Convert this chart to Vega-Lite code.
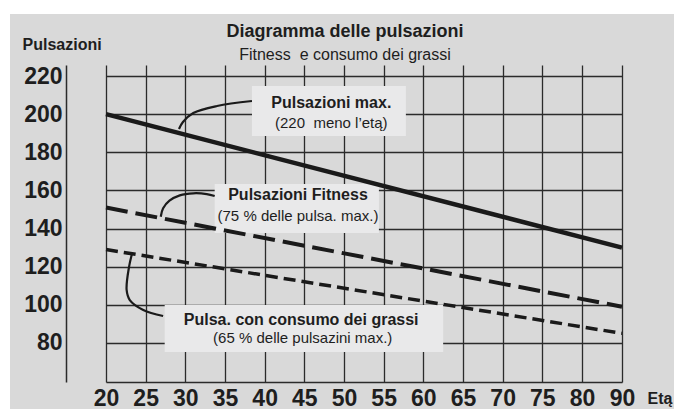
{
  "$schema": "https://vega.github.io/schema/vega-lite/v6.json",
  "width": 558,
  "height": 317,
  "autosize": "none",
  "padding": {"left": 66, "top": 65, "right": 50, "bottom": 27},
  "background": "#d9d9d9",
  "config": {
    "font": "Liberation Sans",
    "view": {"stroke": null},
    "axis": {
      "grid": true, "gridColor": "#2b2b2b", "gridWidth": 1.3, "gridOpacity": 1,
      "domainColor": "#2b2b2b", "domainWidth": 1.5,
      "ticks": false, "labelFont": "Liberation Sans", "labelFontWeight": "bold",
      "labelFontSize": 23, "labelColor": "#1e1e1e", "titleColor": "#1e1e1e",
      "titleFont": "Liberation Sans", "titleFontWeight": "bold", "titleFontSize": 16
    }
  },
  "title": {
    "text": "Diagramma delle pulsazioni",
    "subtitle": "Fitness\u00a0 e consumo dei grassi",
    "fontSize": 18, "fontWeight": "bold", "color": "#1e1e1e",
    "subtitleFontSize": 16, "subtitleColor": "#1e1e1e", "subtitlePadding": 6,
    "anchor": "middle", "frame": "group", "offset": -63,
    "font": "Liberation Sans", "subtitleFont": "Liberation Sans"
  },
  "datasets": {
    "lines": [
      {"serie": "max", "eta": 20, "puls": 200},
      {"serie": "max", "eta": 90, "puls": 130},
      {"serie": "fitness", "eta": 20, "puls": 151},
      {"serie": "fitness", "eta": 90, "puls": 99},
      {"serie": "grassi", "eta": 20, "puls": 129},
      {"serie": "grassi", "eta": 90, "puls": 85}
    ],
    "boxes": [
      {"box": "max", "x1": 38.4, "x2": 57.8, "y1": 214.8, "y2": 188.5},
      {"box": "fitness", "x1": 33.7, "x2": 54.4, "y1": 163.4, "y2": 137.7},
      {"box": "grassi", "x1": 27.4, "x2": 62.5, "y1": 99.9, "y2": 75.3}
    ],
    "strips": [
      {"x1": 6.64, "x2": 103, "y1": 252.5, "y2": 259.85},
      {"x1": 6.64, "x2": 7.9, "y1": 45.4, "y2": 259.85}
    ],
    "leaders": [
      {"id": "a", "i": 0, "eta": 29.2, "puls": 192.2},
      {"id": "a", "i": 1, "eta": 29.7, "puls": 195.9},
      {"id": "a", "i": 2, "eta": 31.0, "puls": 200.6},
      {"id": "a", "i": 3, "eta": 34.0, "puls": 204.3},
      {"id": "a", "i": 4, "eta": 38.4, "puls": 206.9},
      {"id": "b", "i": 0, "eta": 26.9, "puls": 146.2},
      {"id": "b", "i": 1, "eta": 27.2, "puls": 150.6},
      {"id": "b", "i": 2, "eta": 28.0, "puls": 154.6},
      {"id": "b", "i": 3, "eta": 29.3, "puls": 157.4},
      {"id": "b", "i": 4, "eta": 31.0, "puls": 158.5},
      {"id": "b", "i": 5, "eta": 32.7, "puls": 158.1},
      {"id": "b", "i": 6, "eta": 33.7, "puls": 157.1},
      {"id": "c", "i": 0, "eta": 23.3, "puls": 127.2},
      {"id": "c", "i": 1, "eta": 22.9, "puls": 119.8},
      {"id": "c", "i": 2, "eta": 22.6, "puls": 107.8},
      {"id": "c", "i": 3, "eta": 23.0, "puls": 102.5},
      {"id": "c", "i": 4, "eta": 24.7, "puls": 97.3},
      {"id": "c", "i": 5, "eta": 27.2, "puls": 94.1}
    ],
    "labels": [
      {"t": "Pulsazioni max.", "w": "bold", "eta": 48.4, "puls": 203.2},
      {"t": "(220\u00a0 meno l’etą)", "w": "normal", "eta": 48.4, "puls": 192.7},
      {"t": "Pulsazioni Fitness", "w": "bold", "eta": 44.2, "puls": 155},
      {"t": "(75 % delle pulsa. max.)", "w": "normal", "eta": 44.2, "puls": 144},
      {"t": "Pulsa. con consumo dei grassi", "w": "bold", "eta": 44.6, "puls": 89.4},
      {"t": "(65 % delle pulsazini max.)", "w": "normal", "eta": 44.8, "puls": 80}
    ]
  },
  "encoding": {
    "x": {
      "field": "eta", "type": "quantitative",
      "scale": {"domain": [20, 80, 90], "range": [40, 516, 556], "nice": false, "zero": false},
      "axis": {
        "values": [20, 25, 30, 35, 40, 45, 50, 55, 60, 65, 70, 75, 80, 90],
        "title": "Etą", "titleX": 581, "titleY": 21, "titleAlign": "left",
        "titleBaseline": "alphabetic", "titleAnchor": null, "labelPadding": 5,
        "labelOverlap": false, "labelFlush": false
      }
    },
    "y": {
      "field": "puls", "type": "quantitative",
      "scale": {"domain": [59.5, 225.8], "nice": false, "zero": false},
      "axis": {
        "values": [80, 100, 120, 140, 160, 180, 200, 220],
        "title": "Pulsazioni", "titleAngle": 0, "titleX": -44, "titleY": -16,
        "titleAlign": "left", "titleBaseline": "alphabetic", "labelPadding": 4,
        "labelOverlap": false, "labelFlush": false
      }
    }
  },
  "layer": [
    {
      "data": {"name": "strips"},
      "mark": {"type": "rect", "fill": "white"},
      "encoding": {
        "x": {"field": "x1", "type": "quantitative"},
        "x2": {"field": "x2"},
        "y": {"field": "y1", "type": "quantitative"},
        "y2": {"field": "y2"}
      }
    },
    {
      "data": {"name": "boxes"},
      "mark": {"type": "rect", "fill": "#e9e9ea"},
      "encoding": {
        "x": {"field": "x1", "type": "quantitative"},
        "x2": {"field": "x2"},
        "y": {"field": "y1", "type": "quantitative"},
        "y2": {"field": "y2"}
      }
    },
    {
      "data": {"name": "lines"},
      "transform": [{"filter": "datum.serie == 'max'"}],
      "mark": {"type": "line", "color": "#1a1a1a", "strokeWidth": 4.5},
      "encoding": {}
    },
    {
      "data": {"name": "lines"},
      "transform": [{"filter": "datum.serie == 'fitness'"}],
      "mark": {"type": "line", "color": "#1a1a1a", "strokeWidth": 4, "strokeDash": [22, 8]},
      "encoding": {}
    },
    {
      "data": {"name": "lines"},
      "transform": [{"filter": "datum.serie == 'grassi'"}],
      "mark": {"type": "line", "color": "#1a1a1a", "strokeWidth": 3.5, "strokeDash": [12, 6]},
      "encoding": {}
    },
    {
      "data": {"name": "leaders"},
      "mark": {"type": "line", "color": "#1a1a1a", "strokeWidth": 2.2, "interpolate": "catmull-rom"},
      "encoding": {
        "detail": {"field": "id"},
        "order": {"field": "i", "type": "quantitative"}
      }
    },
    {
      "data": {"name": "labels"},
      "transform": [{"filter": "datum.w == 'bold'"}],
      "mark": {"type": "text", "align": "center", "baseline": "alphabetic", "color": "#1e1e1e", "font": "Liberation Sans", "fontWeight": "bold", "fontSize": 16},
      "encoding": {"text": {"field": "t"}}
    },
    {
      "data": {"name": "labels"},
      "transform": [{"filter": "datum.w == 'normal'"}],
      "mark": {"type": "text", "align": "center", "baseline": "alphabetic", "color": "#1e1e1e", "font": "Liberation Sans", "fontWeight": "normal", "fontSize": 15},
      "encoding": {"text": {"field": "t"}}
    }
  ]
}
